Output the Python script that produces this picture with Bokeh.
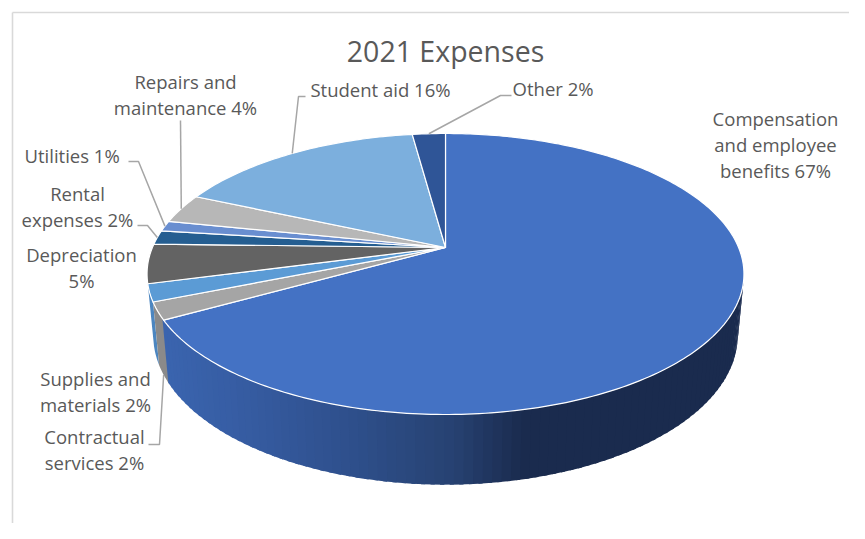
import numpy as np
from bokeh.core.properties import value
from bokeh.embed import file_html
from bokeh.models import Range1d
from bokeh.plotting import figure
from bokeh.resources import INLINE

title = "2021 Expenses"
labels = ["Compensation\nand employee\nbenefits 67%", "Contractual\nservices 2%", "Supplies and\nmaterials 2%",
          "Depreciation\n5%", "Rental\nexpenses 2%", "Utilities  1%", "Repairs and\nmaintenance 4%",
          "Student aid 16%", "Other  2%"]
values = [66.9, 2.0, 2.0, 4.5, 1.6, 1.2, 3.4, 16.25, 2.15]
colors = ["#4472C4", "#A5A5A5", "#5B9BD5", "#636363", "#255E91", "#698ED0", "#B7B7B7", "#7CAFDD", "#2F5597"]

# --- layout only ---
CX, K = 445.0, 0.1886
TOP = dict(cy=247.0, a=293.1, b=135.5)
BOT = dict(cy=306.7, a=287.0, b=144.0)
LABEL_POS = [(775, 118), (94, 436), (95, 378), (81, 254), (77, 193), (74, 155), (185, 81), (380, 89), (555, 88)]
LINE_H = 26
# label index -> (rim, elbow points from the label towards the pie)
LEADERS = {
    1: (BOT, [(148, 444), (159, 444)]),
    4: (TOP, [(137, 225), (147, 225)]),
    5: (TOP, [(128, 161), (138, 161)]),
    6: (TOP, [(180, 120)]),
    7: (TOP, [(305, 96), (298, 96)]),
    8: (TOP, [(511, 95), (500, 95)]),
}
TEXT = "#595959"
FONT = "Open Sans"


def rim(theta, e):
    u, v = np.sin(theta), np.cos(theta)
    w = 1 + K * v
    return CX + e["a"] * u / w, e["cy"] - e["b"] * v / w


def mix(stops, t):
    xs = [s[0] for s in stops]
    ch = [np.interp(t, xs, [s[1][i] for s in stops]) for i in range(3)]
    return "#%02x%02x%02x" % tuple(int(round(c)) for c in ch)


shares = np.array(values) / sum(values) * 2 * np.pi
ends = np.cumsum(shares)
starts = ends - shares
silhouette_r = np.pi / 2 + np.arcsin(K)      # where the rim turns away on the right
silhouette_l = 3 * np.pi / 2 - np.arcsin(K)  # ... and on the left

p = figure(width=849, height=523, output_backend="svg", toolbar_location=None,
           x_range=Range1d(0, 849), y_range=Range1d(523, 0), min_border=0)
p.axis.visible = False
p.grid.visible = False
p.outline_line_color = None

# chart frame
p.line([12, 12], [523, 12], line_color="#D9D9D9", line_width=1.6)
p.line([12, 849], [12, 12], line_color="#D9D9D9", line_width=1.6)

# side wall of the small slices that face the viewer
for i in (2, 1):
    a0, a1 = starts[i], min(ends[i], silhouette_l)
    t = np.linspace(a0, a1, 16)
    x0, y0 = rim(t, TOP)
    x1, y1 = rim(t[::-1], BOT)
    p.patch(np.r_[x0, x1], np.r_[y0, y1], fill_color={1: "#8A8A8A", 2: "#4C86C0"}[i], line_color=None)

# side wall of the largest slice, shaded along its width
stops = [(165, (0x3A, 0x64, 0xAE)), (240, (0x36, 0x5C, 0xA2)), (350, (0x2E, 0x4F, 0x8B)),
         (450, (0x27, 0x42, 0x72)), (520, (0x1A, 0x2B, 0x4E)), (745, (0x1A, 0x2B, 0x4E))]
edges = np.linspace(silhouette_r, ends[0], 91)
xs, ys, fills = [], [], []
for a, b in zip(edges[:-1], edges[1:]):
    t = np.array([a, b + 0.012])
    x0, y0 = rim(t, TOP)
    x1, y1 = rim(t[::-1], BOT)
    xs.append(np.r_[x0, x1])
    ys.append(np.r_[y0, y1])
    fills.append(mix(stops, float(x0.mean())))
p.patches(xs, ys, fill_color=fills, line_color=None)

# top faces
xs, ys = [], []
for a, b in zip(starts, ends):
    t = np.linspace(a, b, max(int((b - a) * 60), 4))
    x, y = rim(t, TOP)
    xs.append(np.r_[CX, x])
    ys.append(np.r_[TOP["cy"], y])
p.patches(xs, ys, fill_color=colors, line_color="white", line_width=1.2, line_join="round")

# leader lines
for i, (e, pts) in LEADERS.items():
    ax, ay = rim((starts[i] + ends[i]) / 2, e)
    p.line([q[0] for q in pts] + [float(ax)], [q[1] for q in pts] + [float(ay)],
           line_color="#A6A6A6", line_width=1.5)

# texts
tx, ty, tt = [], [], []
for lab, (x, y) in zip(labels, LABEL_POS):
    for n, part in enumerate(lab.split("\n")):
        tx.append(x)
        ty.append(y + n * LINE_H)
        tt.append(part)
p.text(tx, ty, text=tt, text_font=value(FONT), text_font_size="18.5px", text_color=TEXT,
       text_align="center", text_baseline="middle")
p.text([445], [50], text=[title], text_font=value(FONT), text_font_size="28.5px", text_color=TEXT,
       text_align="center", text_baseline="middle")

open("out.html", "w").write(file_html(p, INLINE))
